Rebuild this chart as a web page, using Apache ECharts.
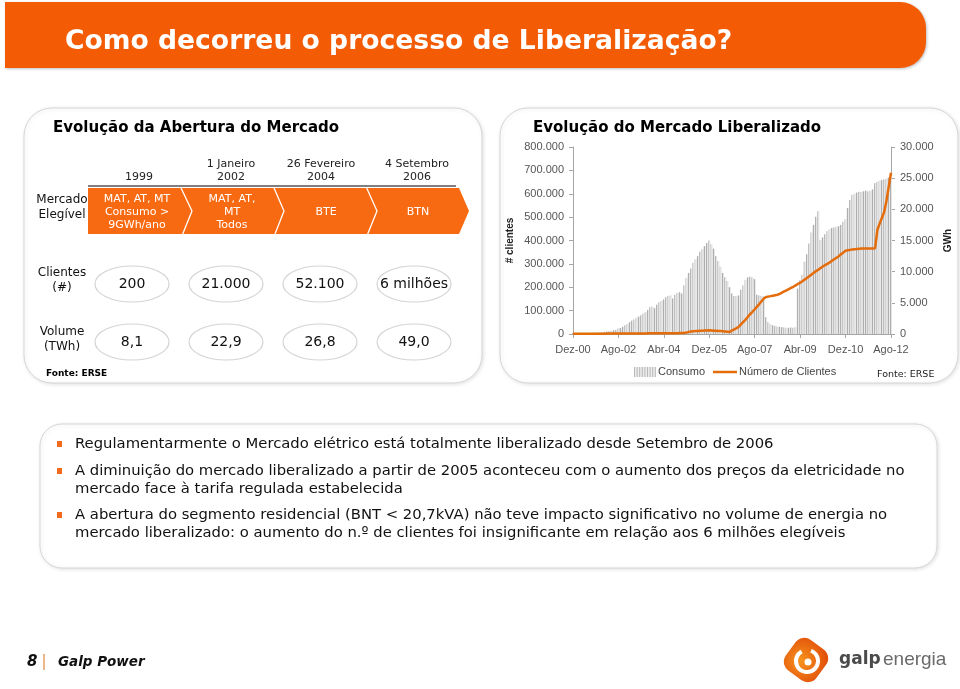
<!DOCTYPE html>
<html>
<head>
<meta charset="utf-8">
<script src="https://cdn.jsdelivr.net/npm/echarts@6/dist/echarts.min.js"></script>
<style>
html,body{margin:0;padding:0;background:#fff;}
#c{width:960px;height:689px;}
</style>
</head>
<body>
<div id="c"></div>
<script>
// ---------- DATA ----------
const monthNames = ['Jan','Fev','Mar','Abr','Mai','Jun','Jul','Ago','Set','Out','Nov','Dez'];
// categories: monthly from Dez-00 to Ago-12
const categories = [];
for (let y = 2000, m = 11; y < 2012 || (y === 2012 && m <= 7); ) {
  categories.push(monthNames[m] + '-' + String(y % 100).padStart(2, '0'));
  m++; if (m === 12) { m = 0; y++; }
}
// Consumo (GWh), right axis
const consumo = [
  150,150,160,160,170,170,180,190,190,200,
  210,220,230,300,350,400,450,500,600,650,
  900,950,1150,1400,1600,1900,2150,2350,2600,2800,
  3000,3300,3500,3850,4300,4400,4150,4700,5100,5300,
  5550,5900,6100,6200,5700,6300,6600,6700,6500,7800,
  9000,9800,10500,11400,12000,12500,13200,13600,14100,14600,
  15000,14400,13700,12500,11700,10800,9800,9100,8500,7500,
  6500,6100,6100,6200,7100,7800,8700,9100,9200,9100,
  8800,6300,6200,6100,6000,2700,1900,1600,1400,1300,
  1200,1150,1100,1050,1000,1000,1050,1000,1100,7300,
  8600,9500,11600,12800,14500,16300,17500,18800,19700,15100,
  15500,16000,16500,16800,17000,17100,17200,17300,17500,18000,
  18400,20200,21500,22300,22500,22700,22800,22800,22900,23000,
  22900,23000,23200,24200,24400,24600,24700,24800,24900,25100,25400
];
// Número de Clientes, left axis
const clientes = [
  800,900,1000,1000,1100,1200,1200,1300,1300,1400,
  1400,1500,1500,1600,1600,1700,1700,1800,1900,1900,
  2000,2000,2100,2100,2200,2200,2300,2300,2400,2400,
  2500,2500,2600,2700,2700,2800,2900,2900,3000,3000,
  3100,3200,3300,3300,3400,3500,3600,3800,4000,4500,
  6000,9000,11000,12000,12500,13000,13500,14000,15000,15500,
  16000,15000,14000,13500,13000,12500,12000,11000,10000,9000,
  15000,20000,25000,31000,42000,52000,62000,74000,85000,95000,
  106000,117000,128000,140000,152000,158000,160000,162000,164000,166000,
  168000,172000,177000,182000,187000,192000,197000,202000,208000,214000,
  219000,226000,233000,240000,247000,254000,262000,269000,275000,282000,
  289000,295000,300000,306000,313000,320000,326000,333000,341000,349000,
  356000,358000,360000,362000,363000,364000,365000,366000,366000,366000,
  366000,366000,366000,367000,445000,472000,497000,522000,570000,630000,690000
];
const leftTicks = { min: 0, max: 800000, interval: 100000 };
const rightTicks = { min: 0, max: 30000, interval: 5000 };
const seriesNames = ['Consumo', 'Número de Clientes'];

// table data
const tableDates = [['1999'], ['1 Janeiro', '2002'], ['26 Fevereiro', '2004'], ['4 Setembro', '2006']];
const tableMercado = [['MAT, AT, MT', 'Consumo >', '9GWh/ano'], ['MAT, AT,', 'MT', 'Todos'], ['BTE'], ['BTN']];
const tableClientes = ['200', '21.000', '52.100', '6 milhões'];
const tableVolume = ['8,1', '22,9', '26,8', '49,0'];
const bullets = [
  ['Regulamentarmente o Mercado elétrico está totalmente liberalizado desde Setembro de 2006'],
  ['A diminuição do mercado liberalizado a partir de 2005 aconteceu com o aumento dos preços da eletricidade no', 'mercado face à tarifa regulada estabelecida'],
  ['A abertura do segmento residencial (BNT < 20,7kVA) não teve impacto significativo no volume de energia no', 'mercado liberalizado: o aumento do n.º de clientes foi insignificante em relação aos 6 milhões elegíveis']
];

// ---------- LAYOUT ----------
const FV = '"DejaVu Sans", Verdana, sans-serif';
const FC = '"Liberation Sans", Arial, sans-serif';
const LINE_COLOR = '#E46C0A';
const g = [];

// header
g.push({type:'rect', z:1, shape:{x:5,y:2,width:921,height:66,r:[0,26,26,0]}, style:{fill:'#F35B04', shadowBlur:3, shadowColor:'rgba(0,0,0,0.25)', shadowOffsetX:1, shadowOffsetY:1}});
g.push({type:'text', z:5, x:65, y:42, style:{text:'Como decorreu o processo de Liberalização?', fill:'#fff', font:'bold 26.6px ' + FV, verticalAlign:'middle'}});

// panels
const panelStyle = {fill:'#fff', stroke:'#d6d6d6', lineWidth:1, shadowBlur:4, shadowColor:'rgba(0,0,0,0.12)', shadowOffsetX:1, shadowOffsetY:1};
g.push({type:'rect', z:0, shape:{x:24,y:108,width:458,height:275,r:28}, style:panelStyle});
g.push({type:'rect', z:0, shape:{x:500,y:108,width:458,height:275,r:28}, style:panelStyle});
g.push({type:'rect', z:0, shape:{x:40,y:424,width:897,height:144,r:22}, style:panelStyle});

// panel titles
g.push({type:'text', z:5, x:53, y:128, style:{text:'Evolução da Abertura do Mercado', fill:'#000', font:'bold 15px ' + FV, verticalAlign:'middle'}});
g.push({type:'text', z:5, x:533, y:128, style:{text:'Evolução do Mercado Liberalizado', fill:'#000', font:'bold 15px ' + FV, verticalAlign:'middle'}});

// table
const colX = [139, 231, 321, 417];
tableDates.forEach((d, i) => {
  g.push({type:'text', z:5, x:colX[i], y: d.length === 1 ? 177 : 170.5, style:{text:d.join('\n'), fill:'#222', font:'11px ' + FV, textAlign:'center', verticalAlign:'middle', lineHeight:13}});
});
g.push({type:'line', z:5, shape:{x1:88,y1:186,x2:456,y2:186}, style:{stroke:'#000', lineWidth:1.2}});
g.push({type:'polygon', z:4, shape:{points:[[88,188],[459,188],[469,211],[459,234],[88,234]]}, style:{fill:'#F86A12'}});
[[181,192,182.7],[274,284,275],[366.7,377,367.7]].forEach(s => {
  g.push({type:'polyline', z:5, shape:{points:[[s[0],188],[s[1],211],[s[2],234]]}, style:{stroke:'#fff', lineWidth:1.3, fill:null}});
});
const merX = [137, 232, 326, 418];
tableMercado.forEach((t, i) => {
  g.push({type:'text', z:6, x:merX[i], y:212, style:{text:t.join('\n'), fill:'#fff', font:'11px ' + FV, textAlign:'center', verticalAlign:'middle', lineHeight:13}});
});
const rowLbl = [['Mercado','Elegível',207.5],['Clientes','(#)',280.5],['Volume','(TWh)',339]];
rowLbl.forEach(r => {
  g.push({type:'text', z:5, x:62, y:r[2], style:{text:r[0] + '\n' + r[1], fill:'#111', font:'12px ' + FV, textAlign:'center', verticalAlign:'middle', lineHeight:15}});
});
const ellX = [132, 226, 320, 414];
[[tableClientes, 284], [tableVolume, 342]].forEach(row => {
  row[0].forEach((v, i) => {
    g.push({type:'ellipse', z:4, shape:{cx:ellX[i], cy:row[1], rx:37, ry:18}, style:{fill:'#fff', stroke:'#d4d4d4', lineWidth:1.2}});
    g.push({type:'text', z:5, x:ellX[i], y:row[1], style:{text:v, fill:'#111', font:'14px ' + FV, textAlign:'center', verticalAlign:'middle'}});
  });
});
g.push({type:'text', z:5, x:46, y:374, style:{text:'Fonte: ERSE', fill:'#000', font:'bold 9px ' + FV, verticalAlign:'middle'}});
g.push({type:'text', z:5, x:877, y:375, style:{text:'Fonte: ERSE', fill:'#222', font:'9.5px ' + FV, verticalAlign:'middle'}});

// chart legend (drawn manually so the line key has no marker)
for (let k = 0; k < 9; k++) {
  g.push({type:'line', z:5, shape:{x1:634.5 + k*2.6, y1:367, x2:634.5 + k*2.6, y2:377}, style:{stroke:'#b8b8b8', lineWidth:1}});
}
g.push({type:'rect', z:4, shape:{x:634, y:367, width:22, height:10}, style:{fill:'#ececec'}});
g.push({type:'text', z:5, x:658, y:372, style:{text:seriesNames[0], fill:'#444', font:'11px ' + FC, verticalAlign:'middle'}});
g.push({type:'line', z:5, shape:{x1:713, y1:372, x2:737, y2:372}, style:{stroke:LINE_COLOR, lineWidth:2.5}});
g.push({type:'text', z:5, x:739, y:372, style:{text:seriesNames[1], fill:'#444', font:'11px ' + FC, verticalAlign:'middle'}});

// bullets
const lineY = [[444], [471, 489], [515, 533]];
bullets.forEach((b, i) => {
  g.push({type:'rect', z:5, shape:{x:57, y:lineY[i][0]-3, width:5, height:6}, style:{fill:'#F26B1D'}});
  b.forEach((t, j) => {
    g.push({type:'text', z:5, x:75, y:lineY[i][j], style:{text:t, fill:'#111', font:'14.8px ' + FV, verticalAlign:'middle'}});
  });
});

// footer
g.push({type:'text', z:5, x:27, y:662, style:{text:'8', fill:'#111', font:'italic bold 15px ' + FV, verticalAlign:'middle'}});
g.push({type:'line', z:5, shape:{x1:44,y1:654,x2:44,y2:670}, style:{stroke:'#E0873F', lineWidth:1.2}});
g.push({type:'text', z:5, x:58, y:662, style:{text:'Galp Power', fill:'#111', font:'italic bold 13.5px ' + FV, verticalAlign:'middle'}});

// logo
g.push({type:'rect', z:5, x:806, y:660, rotation:Math.PI/4 + 0.15, shape:{x:-19,y:-19,width:38,height:38,r:11},
  style:{fill:new echarts.graphic.RadialGradient(0.4,0.4,0.7,[{offset:0,color:'#F7941D'},{offset:1,color:'#E2500A'}])}});
g.push({type:'arc', z:6, shape:{cx:807, cy:661, r:11, startAngle:-1.2, endAngle:4.2}, style:{stroke:'#fff', lineWidth:4, fill:null}});
g.push({type:'circle', z:6, shape:{cx:808, cy:662, r:3.5}, style:{fill:'#fff'}});
g.push({type:'text', z:5, x:839, y:660, style:{text:'galp', fill:'#4a4a4a', font:'bold 17px ' + FV, verticalAlign:'middle'}});
g.push({type:'text', z:5, x:883, y:660, style:{text:'energia', fill:'#6a6a6a', font:'19px ' + FC, verticalAlign:'middle'}});

// ---------- CHART ----------
const fmt = v => v === 0 ? '0' : (v / 1000) + '.000';
const barFill = new echarts.graphic.LinearGradient(0, 0, 1, 0, [
  {offset:0, color:'#aeaeae'}, {offset:0.4, color:'#aeaeae'},
  {offset:0.41, color:'#e4e4e4'}, {offset:1, color:'#e4e4e4'}
]);
const chart = echarts.init(document.getElementById('c'), null, {renderer:'canvas'});
chart.setOption({
  animation: false,
  graphic: g,
  grid: {left: 573, right: 69, top: 147, bottom: 355, containLabel: false},
  xAxis: {
    type: 'category', data: categories, boundaryGap: false,
    axisLine: {lineStyle: {color: '#a6a6a6'}},
    axisTick: {interval: 19, length: 4, lineStyle: {color: '#a6a6a6'}},
    axisLabel: {interval: 19, color: '#555', fontFamily: FC, fontSize: 11, margin: 10}
  },
  yAxis: [
    {type: 'value', min: leftTicks.min, max: leftTicks.max, interval: leftTicks.interval,
     name: '# clientes', nameLocation: 'middle', nameRotate: 90, nameGap: 58,
     nameTextStyle: {fontFamily: FC, fontWeight: 'bold', fontSize: 10, color: '#222'},
     axisLine: {show: true, lineStyle: {color: '#a6a6a6'}},
     axisTick: {show: true, length: 4, lineStyle: {color: '#a6a6a6'}},
     splitLine: {show: false},
     axisLabel: {formatter: fmt, color: '#555', fontFamily: FC, fontSize: 11, margin: 9}},
    {type: 'value', min: rightTicks.min, max: rightTicks.max, interval: rightTicks.interval,
     name: 'GWh', nameLocation: 'middle', nameRotate: 90, nameGap: 52,
     nameTextStyle: {fontFamily: FC, fontWeight: 'bold', fontSize: 10, color: '#222'},
     axisLine: {show: true, lineStyle: {color: '#a6a6a6'}},
     axisTick: {show: true, length: 4, lineStyle: {color: '#a6a6a6'}},
     splitLine: {show: false},
     axisLabel: {formatter: fmt, color: '#555', fontFamily: FC, fontSize: 11, margin: 9}}
  ],
  series: [
    {name: seriesNames[0], type: 'bar', yAxisIndex: 1, data: consumo, barWidth: 2,
     itemStyle: {color: barFill}, z: 2},
    {name: seriesNames[1], type: 'line', yAxisIndex: 0, data: clientes,
     symbol: 'none', lineStyle: {color: LINE_COLOR, width: 2.5}, itemStyle: {color: LINE_COLOR}, z: 3}
  ]
});
</script>
</body>
</html>
